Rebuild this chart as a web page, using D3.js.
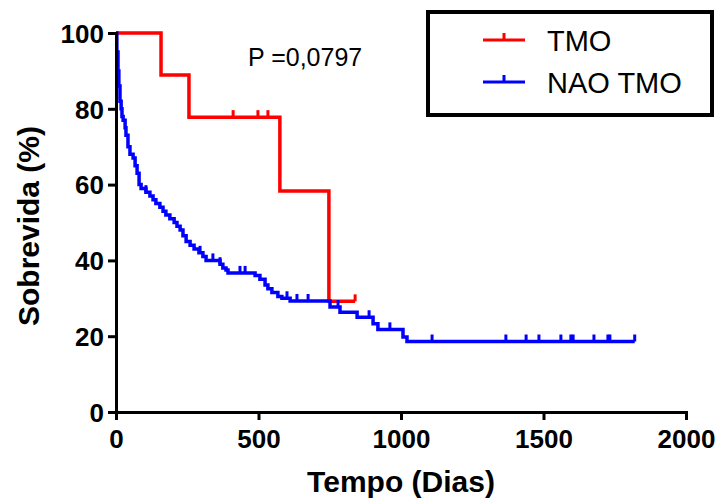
<!DOCTYPE html>
<html lang="pt">
<head>
    <meta charset="UTF-8">
    <title>Sobrevida</title>
    <script src="https://cdn.jsdelivr.net/npm/d3@7/dist/d3.min.js"></script>
    <style>
        body { margin: 0; background: #fff; }
        svg { font-family: "Liberation Sans", Arial, sans-serif; }
        .axis path, .axis line { stroke: #000; stroke-width: 3px; }
        .axis text { font-size: 26px; font-weight: bold; fill: #000; }
        .curve { fill: none; stroke-width: 3.5px; }
        .title { font-size: 30px; font-weight: bold; }
    </style>
</head>
<body>
    <svg width="718" height="501"></svg>
    <script>
        // TMO group
        var tmoTimes = [0, 158, 256, 575, 747],
            tmoSurv = [100, 88.9, 77.8, 58.3, 29.2],
            tmoEnd = 839,
            tmoCensor = [411, 498, 533, 839];

        // NAO TMO group
        var naoTimes = [0, 3, 7, 10, 14, 18, 21, 25, 32, 35, 42, 49, 60, 67, 74, 81, 88, 105, 119, 130,
                        140, 154, 165, 175, 189, 204, 214, 225, 235, 246, 260, 274, 291, 305, 316, 365,
                        375, 386, 393, 488, 505, 523, 533, 547, 568, 582, 611, 751, 786, 846, 902, 919,
                        1007, 1021],
            naoSurv = [100, 95, 90, 86, 82, 80, 78, 77, 75, 73, 70, 68, 67, 65, 63, 60, 59, 58, 57, 56,
                       55, 54, 53, 52, 51, 50, 49, 48, 46.5, 45, 44, 43, 42, 41, 40, 39,
                       38, 37.5, 36.7, 36, 35, 33.5, 32.5, 31.5, 30.5, 30, 29.3, 27.7, 26.3, 25, 23.3, 21.8,
                       19.8, 18.6],
            naoEnd = 1820,
            naoCensor = [105, 295, 340, 365, 435, 453, 600, 635, 674, 779, 888, 961, 1109, 1368, 1439,
                         1484, 1561, 1596, 1604, 1677, 1726, 1733, 1820];

        var xTicks = [0, 500, 1000, 1500, 2000],
            yTicks = [0, 20, 40, 60, 80, 100],
            legendNames = ['TMO', 'NAO TMO'],
            colors = ['#ff0000', '#0000ff'];

        var svg = d3.select('svg'),
            margin = { top: 33, left: 116 },
            chartWidth = 570,
            chartHeight = 379,
            xScale = d3.scaleLinear().domain([0, 2000]).range([0, chartWidth]),
            yScale = d3.scaleLinear().domain([0, 100]).range([chartHeight, 0]),
            chartG = svg.append('g')
                .attr('transform', 'translate(' + [margin.left, margin.top] + ')');

        var line = d3.line()
            .x(function(d) { return xScale(d[0]); })
            .y(function(d) { return yScale(d[1]); })
            .curve(d3.curveStepAfter);

        function survAt(times, surv, t) {
            var s = surv[0];
            for (var i = 0; i < times.length; i++) {
                if (times[i] <= t) s = surv[i];
            }
            return s;
        }

        function drawGroup(times, surv, end, censor, color) {
            var pts = times.map(function(t, i) { return [t, surv[i]]; });
            pts.push([end, surv[surv.length - 1]]);
            chartG.append('path')
                .attr('class', 'curve')
                .attr('stroke', color)
                .attr('d', line(pts));
            chartG.selectAll(null)
                .data(censor)
                .enter().append('line')
                .attr('stroke', color)
                .attr('stroke-width', 3)
                .attr('x1', function(d) { return xScale(d); })
                .attr('x2', function(d) { return xScale(d); })
                .attr('y1', function(d) { return yScale(survAt(times, surv, d)); })
                .attr('y2', function(d) { return yScale(survAt(times, surv, d)) - 7; });
        }

        drawGroup(tmoTimes, tmoSurv, tmoEnd, tmoCensor, colors[0]);
        drawGroup(naoTimes, naoSurv, naoEnd, naoCensor, colors[1]);

        chartG.append('g')
            .attr('class', 'axis')
            .call(d3.axisLeft(yScale).tickValues(yTicks).tickSize(8).tickSizeOuter(0).tickPadding(4))
            .selectAll('text').attr('dy', '0.36em');

        chartG.append('g')
            .attr('class', 'axis')
            .attr('transform', 'translate(0,' + chartHeight + ')')
            .call(d3.axisBottom(xScale).tickValues(xTicks).tickFormat(d3.format('d'))
                .tickSize(8).tickSizeOuter(0).tickPadding(10));

        svg.selectAll('.axis .domain').attr('stroke-linecap', 'square');

        svg.append('text')
            .attr('class', 'title')
            .attr('x', 401)
            .attr('y', 492)
            .attr('text-anchor', 'middle')
            .text('Tempo (Dias)');

        svg.append('text')
            .attr('class', 'title')
            .attr('transform', 'translate(39,226) rotate(-90)')
            .attr('text-anchor', 'middle')
            .text('Sobrevida (%)');

        svg.append('text')
            .attr('x', 248)
            .attr('y', 66)
            .attr('font-size', 25)
            .text('P =0,0797');

        // legend
        var legend = svg.append('g');
        legend.append('rect')
            .attr('x', 428).attr('y', 12)
            .attr('width', 284).attr('height', 103)
            .attr('fill', 'none').attr('stroke', '#000').attr('stroke-width', 4);

        legendNames.forEach(function(name, i) {
            var y = 40 + i * 42;
            legend.append('line')
                .attr('x1', 483).attr('x2', 525).attr('y1', y).attr('y2', y)
                .attr('stroke', colors[i]).attr('stroke-width', 3);
            legend.append('line')
                .attr('x1', 504).attr('x2', 504).attr('y1', y).attr('y2', y - 7)
                .attr('stroke', colors[i]).attr('stroke-width', 3);
            legend.append('text')
                .attr('x', 547).attr('y', y + 11)
                .attr('font-size', 29)
                .text(name);
        });
    </script>
</body>
</html>
